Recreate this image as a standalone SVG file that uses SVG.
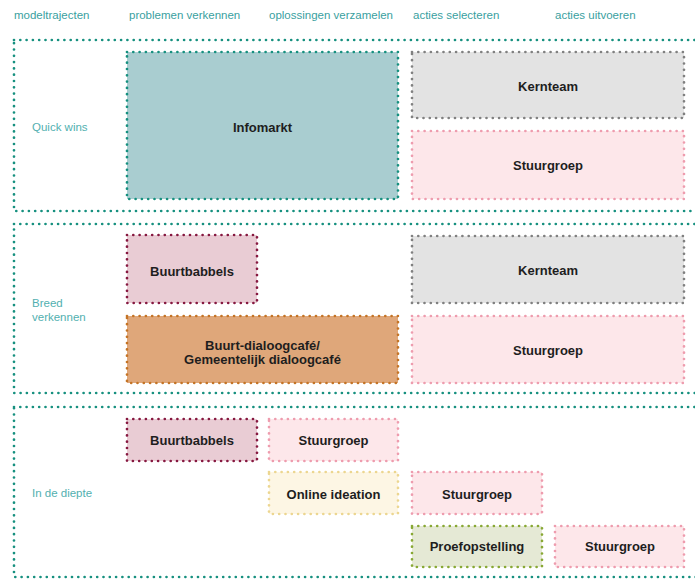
<svg xmlns="http://www.w3.org/2000/svg" width="695" height="579" viewBox="0 0 695 579">
<style>
.hd{font-family:"Liberation Sans",Arial,sans-serif;font-size:11.5px;fill:#3a9f9f}
.rl{font-family:"Liberation Sans",Arial,sans-serif;font-size:11.5px;fill:#52b0b0}
.lb{font-family:"Liberation Sans",Arial,sans-serif;font-size:13px;font-weight:bold;fill:#1e1e1e;text-anchor:middle}
.dot{stroke-dasharray:0 6.3;stroke-linecap:round;stroke-width:2.7}
.band{fill:none;stroke:#16907f}
.info{fill:#a9cdd0;stroke:#16907f}
.kern{fill:#e3e3e3;stroke:#808080}
.stuur{fill:#fde7ea;stroke:#ee9cae}
.babb{fill:#e9ccd4;stroke:#861840}
.cafe{fill:#dfa77a;stroke:#c47426}
.online{fill:#fdf6e4;stroke:#ecd690}
.proef{fill:#e5e9d5;stroke:#88a834}
</style>
<rect width="695" height="579" fill="#ffffff"/>
<g id="headers">
<text class="hd" x="14" y="19">modeltrajecten</text>
<text class="hd" x="129" y="19">problemen verkennen</text>
<text class="hd" x="269" y="19">oplossingen verzamelen</text>
<text class="hd" x="413" y="19">acties selecteren</text>
<text class="hd" x="555" y="19">acties uitvoeren</text>
</g>
<g id="band-quickwins">
<rect class="band dot" x="14" y="40" width="700" height="171"/>
<text class="rl" x="32" y="131">Quick wins</text>
</g>
<g id="band-breed">
<rect class="band dot" x="14" y="224" width="700" height="169"/>
<text class="rl" x="32" y="307">Breed</text>
<text class="rl" x="32" y="321">verkennen</text>
</g>
<g id="band-diepte">
<rect class="band dot" x="14" y="407" width="700" height="170"/>
<text class="rl" x="32" y="497">In de diepte</text>
</g>
<g id="q-infomarkt">
<rect class="info dot" x="127" y="52" width="271" height="147"/>
<text class="lb" x="262.5" y="131.5">Infomarkt</text>
</g>
<g id="q-kernteam">
<rect class="kern dot" x="412" y="52" width="272" height="66"/>
<text class="lb" x="548" y="90.5">Kernteam</text>
</g>
<g id="q-stuurgroep">
<rect class="stuur dot" x="412" y="131" width="272" height="68"/>
<text class="lb" x="548" y="169.5">Stuurgroep</text>
</g>
<g id="b-buurtbabbels">
<rect class="babb dot" x="127" y="235" width="130" height="68"/>
<text class="lb" x="192" y="275.5">Buurtbabbels</text>
</g>
<g id="b-dialoogcafe">
<rect class="cafe dot" x="127" y="316" width="271" height="67"/>
<text class="lb" x="262.5" y="349.5">Buurt-dialoogcafé/</text>
<text class="lb" x="262.5" y="364">Gemeentelijk dialoogcafé</text>
</g>
<g id="b-kernteam">
<rect class="kern dot" x="412" y="236" width="272" height="67"/>
<text class="lb" x="548" y="274.5">Kernteam</text>
</g>
<g id="b-stuurgroep">
<rect class="stuur dot" x="412" y="316" width="272" height="67"/>
<text class="lb" x="548" y="354.5">Stuurgroep</text>
</g>
<g id="d-buurtbabbels">
<rect class="babb dot" x="127" y="419" width="130" height="42"/>
<text class="lb" x="192" y="445">Buurtbabbels</text>
</g>
<g id="d-stuurgroep1">
<rect class="stuur dot" x="269" y="419" width="129" height="42"/>
<text class="lb" x="333.5" y="445">Stuurgroep</text>
</g>
<g id="d-online">
<rect class="online dot" x="269" y="472" width="129" height="42"/>
<text class="lb" x="333.5" y="498.5">Online ideation</text>
</g>
<g id="d-stuurgroep2">
<rect class="stuur dot" x="412" y="472" width="130" height="42"/>
<text class="lb" x="477" y="498.5">Stuurgroep</text>
</g>
<g id="d-proef">
<rect class="proef dot" x="412" y="526" width="130" height="41"/>
<text class="lb" x="477" y="551">Proefopstelling</text>
</g>
<g id="d-stuurgroep3">
<rect class="stuur dot" x="555" y="526" width="129" height="41"/>
<text class="lb" x="620" y="551">Stuurgroep</text>
</g>
<g id="connectors"></g>
</svg>
